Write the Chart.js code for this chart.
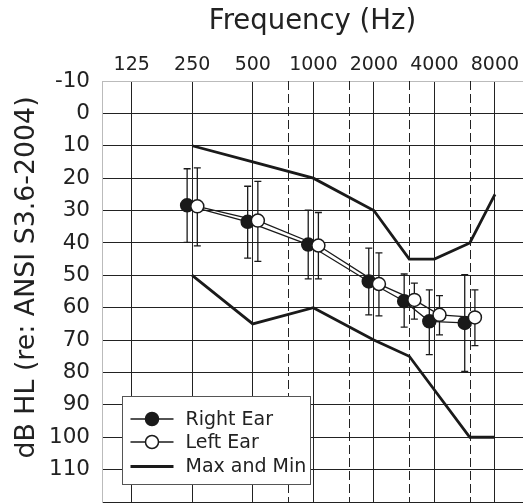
<!DOCTYPE html>
<html>
<head>
<meta charset="utf-8">
<script src="https://cdn.jsdelivr.net/npm/chart.js@4.4.1/dist/chart.umd.min.js"></script>
<style>
  html, body { margin: 0; padding: 0; background: #fff; }
  canvas { display: block; }
</style>
</head>
<body>
<canvas id="audiogram" width="523" height="503"></canvas>
<script>
// mean thresholds (dB HL) and error bar ends, per ear
const freqs = [250, 500, 1000, 2000, 3000, 4000, 6000];
const rightEar = [28.4, 33.5, 40.5, 51.9, 58, 64.2, 64.7];
const rightTop = [17.1, 22.5, 29.9, 41.6, 49.6, 54.5, 49.8];
const rightBottom = [39.8, 44.7, 51.1, 62.2, 66, 74.5, 79.7];
const leftEar = [28.7, 33.1, 40.8, 52.7, 57.6, 62.2, 63];
const leftTop = [16.8, 21, 30.6, 43.1, 52.4, 56.3, 54.5];
const leftBottom = [40.9, 45.7, 51.1, 62.5, 63.5, 68.4, 71.7];

// max / min envelope
const rangeFreqs = [250, 500, 1000, 2000, 3000, 4000, 6000, 8000];
const maxLevels = [10, 15, 20, 30, 45, 45, 40, 25];
const minLevels = [50, 65, 60, 70, 75, null, 100, 100];

const freqTicks = [125, 250, 500, 1000, 2000, 4000, 8000];
const halfOctaves = [750, 1500, 3000, 6000];
const dbTicks = [-10, 0, 10, 20, 30, 40, 50, 60, 70, 80, 90, 100, 110, 120];

const xTitle = 'Frequency (Hz)';
const yTitle = 'dB HL (re: ANSI S3.6-2004)';

// right ear drawn a bit left of the frequency, left ear a bit right
const RIGHT_SHIFT = 1 / 1.06;
const LEFT_SHIFT = 1.06;
const FONT = 'DejaVu Sans';
const INK = '#1a1a1a';

const pts = (xs, ys, k = 1) => xs.map((f, i) => ({ x: f * k, y: ys[i] }));

const dashedGrid = {
  id: 'dashedGrid',
  beforeDatasetsDraw(chart) {
    const { ctx, chartArea, scales: { x } } = chart;
    ctx.save();
    ctx.strokeStyle = '#222';
    ctx.lineWidth = 1;
    ctx.setLineDash([9, 4]);
    halfOctaves.forEach(f => {
      const px = Math.round(x.getPixelForValue(f)) + 0.5;
      ctx.beginPath();
      ctx.moveTo(px, chartArea.top);
      ctx.lineTo(px, chartArea.bottom);
      ctx.stroke();
    });
    ctx.restore();
  }
};

const errorBars = {
  id: 'errorBars',
  beforeDatasetsDraw(chart) {
    const { ctx, scales: { x, y } } = chart;
    ctx.save();
    ctx.strokeStyle = INK;
    ctx.lineWidth = 1.3;
    [[rightTop, rightBottom, RIGHT_SHIFT], [leftTop, leftBottom, LEFT_SHIFT]].forEach(([tops, bots, k]) => {
      freqs.forEach((f, i) => {
        const px = x.getPixelForValue(f * k);
        const y1 = y.getPixelForValue(tops[i]);
        const y2 = y.getPixelForValue(bots[i]);
        ctx.beginPath();
        ctx.moveTo(px, y1); ctx.lineTo(px, y2);
        ctx.moveTo(px - 3.5, y1); ctx.lineTo(px + 3.5, y1);
        ctx.moveTo(px - 3.5, y2); ctx.lineTo(px + 3.5, y2);
        ctx.stroke();
      });
    });
    ctx.restore();
  }
};

const sideTitle = {
  id: 'sideTitle',
  afterDraw(chart) {
    const { ctx } = chart;
    ctx.save();
    ctx.translate(27.5, 277.5);
    ctx.rotate(-Math.PI / 2);
    ctx.font = '26.8px "' + FONT + '"';
    ctx.fillStyle = '#222';
    ctx.textAlign = 'center';
    ctx.textBaseline = 'middle';
    ctx.fillText(yTitle, 0, 0);
    ctx.restore();
  }
};

const boxLegend = {
  id: 'boxLegend',
  afterDraw(chart) {
    const { ctx, chartArea } = chart;
    const left = chartArea.left + 20.5, top = chartArea.bottom - 105.5;
    const w = 188, h = 88;
    ctx.save();
    ctx.fillStyle = '#fff';
    ctx.fillRect(left, top, w, h);
    ctx.strokeStyle = '#555';
    ctx.lineWidth = 1;
    ctx.strokeRect(left, top, w, h);
    const rows = [
      { label: 'Right Ear', fill: INK, marker: true, width: 1.3 },
      { label: 'Left Ear', fill: '#fff', marker: true, width: 1.3 },
      { label: 'Max and Min', marker: false, width: 2.8 }
    ];
    const rowY = [22.5, 45.5, 70];
    ctx.font = '19px "' + FONT + '"';
    ctx.textBaseline = 'middle';
    rows.forEach((r, i) => {
      const yy = top + rowY[i];
      ctx.strokeStyle = INK;
      ctx.lineWidth = r.width;
      ctx.beginPath();
      ctx.moveTo(left + 8, yy);
      ctx.lineTo(left + 51, yy);
      ctx.stroke();
      if (r.marker) {
        ctx.beginPath();
        ctx.arc(left + 29.5, yy, 6.5, 0, Math.PI * 2);
        ctx.fillStyle = r.fill;
        ctx.fill();
        ctx.lineWidth = 1.5;
        ctx.stroke();
      }
      ctx.fillStyle = '#222';
      ctx.fillText(r.label, left + 63, yy + 1);
    });
    ctx.restore();
  }
};

new Chart(document.getElementById('audiogram'), {
  type: 'line',
  data: {
    datasets: [
      {
        label: 'Left Ear',
        data: pts(freqs, leftEar, LEFT_SHIFT),
        borderColor: INK,
        borderWidth: 1.3,
        pointRadius: 6.5,
        pointBorderWidth: 1.5,
        pointBackgroundColor: '#fff',
        pointBorderColor: INK,
        order: 0
      },
      {
        label: 'Right Ear',
        data: pts(freqs, rightEar, RIGHT_SHIFT),
        borderColor: INK,
        borderWidth: 1.3,
        pointRadius: 6.5,
        pointBorderWidth: 1.5,
        pointBackgroundColor: INK,
        pointBorderColor: INK,
        order: 1
      },
      {
        label: 'Max',
        data: pts(rangeFreqs, maxLevels),
        borderColor: INK,
        borderWidth: 2.8,
        pointRadius: 0,
        order: 2
      },
      {
        label: 'Min',
        data: pts(rangeFreqs, minLevels),
        borderColor: INK,
        borderWidth: 2.8,
        pointRadius: 0,
        spanGaps: true,
        order: 2
      }
    ]
  },
  options: {
    responsive: false,
    animation: false,
    layout: { autoPadding: false, padding: { top: 0, left: 0, right: 0, bottom: 1 } },
    plugins: {
      legend: { display: false },
      tooltip: { enabled: false }
    },
    scales: {
      x: {
        type: 'logarithmic',
        position: 'top',
        min: 89,
        max: 11030,
        afterFit: s => { s.height = 81; s.paddingLeft = 0; s.paddingRight = 0; },
        afterBuildTicks: s => { s.ticks = freqTicks.map(v => ({ value: v })); },
        ticks: {
          padding: 5,
          color: '#222',
          font: { family: FONT, size: 19 },
          callback: v => String(v),
          maxRotation: 0,
          autoSkip: false
        },
        grid: { color: '#222', lineWidth: 1, drawTicks: false },
        border: { color: '#bbb', width: 1 },
        title: {
          display: true,
          text: xTitle,
          color: '#222',
          font: { family: FONT, size: 27.5 },
          padding: { top: 5.5, bottom: 0 }
        }
      },
      y: {
        reverse: true,
        min: -10,
        max: 120,
        afterFit: s => { s.width = 102; s.paddingTop = 0; s.paddingBottom = 0; },
        afterBuildTicks: s => { s.ticks = dbTicks.map(v => ({ value: v })); },
        ticks: {
          padding: 12,
          color: '#222',
          font: { family: FONT, size: 21.5 },
          callback: v => (v === 120 ? '' : String(v)),
          autoSkip: false
        },
        grid: {
          color: c => (c.tick && c.tick.value === -10 ? '#bbb' : '#222'),
          lineWidth: 1,
          drawTicks: false
        },
        border: { color: '#bbb', width: 1 }
      }
    }
  },
  plugins: [dashedGrid, errorBars, sideTitle, boxLegend]
});
</script>
</body>
</html>
